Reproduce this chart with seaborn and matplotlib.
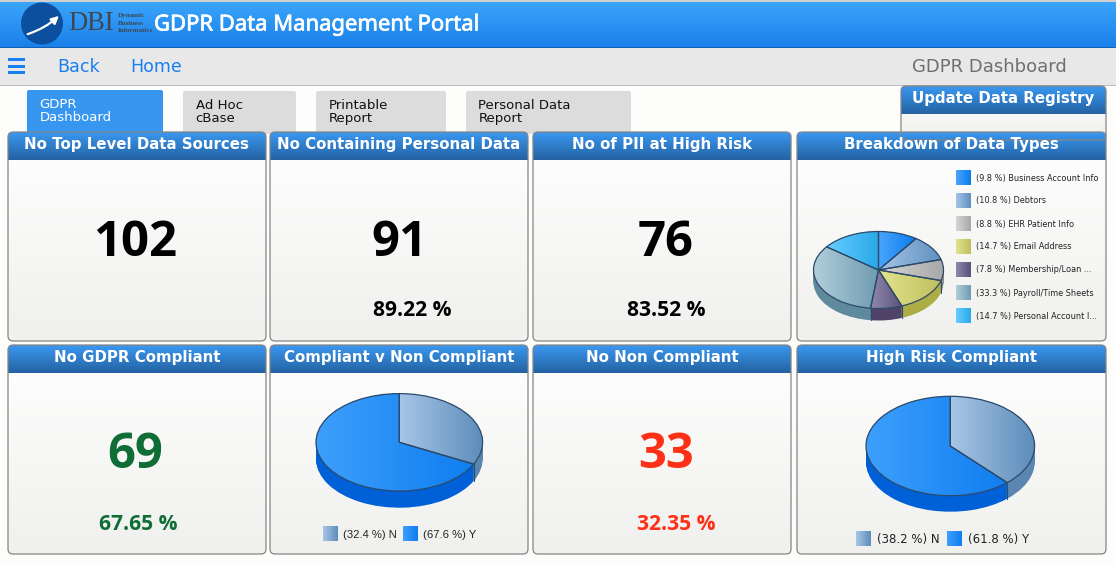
import numpy as np
import matplotlib
matplotlib.use("Agg")
import matplotlib.pyplot as plt
import matplotlib.patheffects as pe
import seaborn as sns
from matplotlib.patches import FancyBboxPatch, Rectangle, Circle, FancyArrowPatch
from matplotlib.colors import LinearSegmentedColormap

# ---------- data ----------
page_title = "GDPR Data Management Portal"
nav_links = ["Back", "Home"]
page_name = "GDPR Dashboard"
tab_labels = ["GDPR\nDashboard", "Ad Hoc\ncBase", "Printable\nReport", "Personal Data\nReport"]
panel_titles = ["No Top Level Data Sources", "No Containing Personal Data", "No of PII at High Risk",
                "Breakdown of Data Types", "No GDPR Compliant", "Compliant v Non Compliant",
                "No Non Compliant", "High Risk Compliant"]
side_panel_title = "Update Data Registry"
kpi_values = ["102", "91", "76", "69", "33"]
kpi_percents = [None, "89.22 %", "83.52 %", "67.65 %", "32.35 %"]

breakdown_labels = ["Business Account Info", "Debtors", "EHR Patient Info", "Email Address",
                    "Membership/Loan ...", "Payroll/Time Sheets", "Personal Account I..."]
breakdown_values = [9.8, 10.8, 8.8, 14.7, 7.8, 33.3, 14.7]
compliant_labels = ["N", "Y"]
compliant_values = [32.4, 67.6]
highrisk_labels = ["N", "Y"]
highrisk_values = [38.2, 61.8]

# ---------- styles ----------
sns.set_theme(style="white")
plt.rcParams["font.family"] = ["DejaVu Sans"]
W, H = 1116, 566
PX = 0.72  # pt per px at dpi 100

fig = plt.figure(figsize=(W / 100, H / 100), dpi=100, facecolor="#fdfdfb")
bg = fig.add_axes([0, 0, 1, 1])
bg.set_xlim(0, W); bg.set_ylim(H, 0); bg.axis("off")

def cmap(c0, c1):
    return LinearSegmentedColormap.from_list("g", [c0, c1])

def grad(ax, x0, y0, x1, y1, c0, c1, vertical=False, clip=None, zorder=2):
    g = np.linspace(0, 1, 64)
    arr = g[:, None] if vertical else g[None, :]
    im = ax.imshow(arr, extent=(x0, x1, y1, y0), origin="upper", cmap=cmap(c0, c1),
                   aspect="auto", interpolation="bilinear", zorder=zorder)
    if clip is not None:
        im.set_clip_path(clip)
    return im

def panel(x0, y0, x1, y1, title, head=28, size=15):
    box = FancyBboxPatch((x0, y0), x1 - x0, y1 - y0, boxstyle="round,pad=0,rounding_size=5",
                         fc="none", ec="none", zorder=1)
    bg.add_patch(box)
    grad(bg, x0, y0, x1, y1, "#ffffff", "#f0f0ee", vertical=True, clip=box, zorder=1.2)
    grad(bg, x0, y0, x1, y0 + head, "#3a98f0", "#2462a2", vertical=True, clip=box, zorder=1.3)
    bg.add_patch(FancyBboxPatch((x0, y0), x1 - x0, y1 - y0, boxstyle="round,pad=0,rounding_size=5",
                                fc="none", ec="#858585", lw=0.9, zorder=1.4))
    bg.text((x0 + x1) / 2, y0 + 12.5, title, color="white", fontsize=size * PX, fontweight="bold",
            ha="center", va="center", zorder=3)

# ---------- top bar ----------
bg.add_patch(Rectangle((0, 0), W, 2, fc="#cfcfcf", ec="none", zorder=1))
grad(bg, 0, 2, W, 47, "#3aa5fb", "#1a80ea", vertical=True, zorder=1)
bg.add_patch(Rectangle((0, 47), W, 1.2, fc="#1560b0", ec="none", zorder=1.1))
bg.add_patch(Circle((42, 23.5), 21, fc="#0b4f9e", ec="none", zorder=2))
bg.add_patch(FancyArrowPatch((25, 35), (61, 14), connectionstyle="arc3,rad=0.12", arrowstyle="-|>",
                             mutation_scale=11, color="white", lw=1.6, zorder=3))
bg.text(68, 24, "DBI", family="Liberation Serif", fontsize=26.5 * PX, color="#3f4650",
        ha="left", va="center", zorder=3)
for yy, word in zip((16, 23.5, 30.5), ("Dynamic", "Business", "Informatics")):
    bg.text(118, yy, word, family="Liberation Serif", fontsize=7 * PX, color="#3f4650",
            fontweight="bold", ha="left", va="center", zorder=3)
bg.text(154, 25, page_title, family="Noto Sans", fontsize=22 * PX, color="white",
        ha="left", va="center", zorder=3,
        path_effects=[pe.withStroke(linewidth=0.5, foreground="white")])

# ---------- nav bar ----------
bg.add_patch(Rectangle((0, 48), W, 37, fc="#e8e8e8", ec="none", zorder=1))
bg.add_patch(Rectangle((0, 85), W, 1.2, fc="#bdbdbd", ec="none", zorder=1))
for yy in (58, 65, 71):
    bg.add_patch(Rectangle((8, yy), 17, 3, fc="#1a7ff0", ec="none", zorder=2, snap=False))
for label, xx in zip(nav_links, (57, 130)):
    bg.text(xx, 67.5, label, fontsize=17.5 * PX, color="#1a7ff0", family="DejaVu Sans", ha="left", va="center")
bg.text(912, 67.5, page_name, fontsize=18 * PX, color="#6f6f6f", ha="left", va="center")

# ---------- tabs ----------
tab_x = [(27, 163), (183, 296), (316, 446), (466, 631)]
for i, (label, (a, b)) in enumerate(zip(tab_labels, tab_x)):
    active = i == 0
    bg.add_patch(FancyBboxPatch((a, 90 + (0 if active else 1)), b - a, 43, boxstyle="round,pad=0,rounding_size=2",
                                fc="#3797f0" if active else "#dcdcdc", ec="none", zorder=1))
    bg.text(a + 12.5, 111 if active else 112, label, fontsize=13.3 * PX, color="white" if active else "#111111",
            ha="left", va="center", linespacing=0.98, zorder=2)

# ---------- panels ----------
panel(901, 86, 1106, 140, side_panel_title, head=28, size=15)
cols = [(8, 266), (270, 528), (533, 791), (797, 1106)]
rows = [(132, 341), (345, 554)]
k = 0
for r, (y0, y1) in enumerate(rows):
    for c, (x0, x1) in enumerate(cols):
        panel(x0, y0, x1, y1, panel_titles[k])
        k += 1

# ---------- KPI tiles ----------
kpi_pos = [(135, 243), (399, 243), (666, 243), (135, 455.5), (666, 455.5)]
kpi_pct_pos = [None, (412, 311), (666, 311), (138, 524), (676, 524)]
kpi_col = ["black", "black", "black", "#0f6e36", "#ff3018"]
for v, p, (xx, yy), pp, col in zip(kpi_values, kpi_percents, kpi_pos, kpi_pct_pos, kpi_col):
    bg.text(xx, yy, v, family="Open Sans", fontweight="bold", fontsize=49 * PX, color=col,
            ha="center", va="center", zorder=3)
    if p:
        bg.text(pp[0], pp[1], p, family="Open Sans", fontweight="bold", fontsize=21 * PX, color=col,
                ha="center", va="center", zorder=3)

# ---------- 3-D looking pies ----------
def pie3d(values, tops, sides, cx, cy, rx, ry, depth):
    m = 1.08
    d = depth / ry
    left, right = cx - rx * m, cx + rx * m
    top, bottom = cy - ry * m, cy + ry * m + depth
    ax = fig.add_axes([left / W, 1 - bottom / H, (right - left) / W, (bottom - top) / H])
    # side wall: stacked layers up to the top face
    n = int(depth) + 1
    for o in np.linspace(d, 0, n):
        ax.pie(values, colors=sides, startangle=90, counterclock=False, center=(0, -o),
               wedgeprops=dict(linewidth=0))
    # top face with per-slice gradient
    faces, _ = ax.pie(values, colors=[t[0] for t in tops], startangle=90, counterclock=False,
                      wedgeprops=dict(linewidth=0))
    for w, (c0, c1) in zip(faces, tops):
        e = w.get_path().get_extents(w.get_patch_transform())
        g = np.linspace(0, 1, 64)[None, :]
        im = ax.imshow(g, extent=(e.x0, e.x1, e.y0, e.y1), origin="lower", cmap=cmap(c0, c1), aspect="auto",
                       interpolation="bilinear", zorder=3)
        im.set_clip_path(w)
    edges, _ = ax.pie(values, startangle=90, counterclock=False,
                      wedgeprops=dict(linewidth=0.9, edgecolor="#2c4a6b", fill=False))
    for w in edges:
        w.set_zorder(4)
    # slice boundaries on the front wall
    for b in np.cumsum(values)[:-1]:
        a = np.deg2rad(90 - b / sum(values) * 360)
        if np.sin(a) < 0:
            ax.plot([np.cos(a)] * 2, [np.sin(a), np.sin(a) - d], color="#2c4a6b", lw=0.8, zorder=3.5)
    ax.set_aspect("auto")
    ax.set_xlim(-m, m)
    ax.set_ylim(-m - d, m)
    ax.axis("off")
    ax.patch.set_alpha(0)
    return ax

Y_TOP = ("#3d9ffb", "#0f7ef0")
N_TOP = ("#a8c6e6", "#5d8dbb")
Y_SIDE = "#0060d8"
N_SIDE = "#5a86b0"

breakdown_tops = [("#4aa5fb", "#0a7cee"), ("#a6c4e6", "#5f90bf"), ("#d6d6d6", "#a8a8a8"), ("#e2e28e", "#bfbf5e"),
                  ("#8e88ac", "#5a5078"), ("#b0ced9", "#6f9cb0"), ("#66ccff", "#2aa8e8")]
breakdown_sides = ["#0a66c8", "#5a86b0", "#8c8c8c", "#adad45", "#4f4468", "#5f8a9e", "#2090c8"]
pie3d(breakdown_values, breakdown_tops, breakdown_sides, 878.5, 270, 65, 38.5, 12)
pie3d(compliant_values, [N_TOP, Y_TOP], [N_SIDE, Y_SIDE], 399.3, 442.3, 83.3, 48.7, 16.7)
pie3d(highrisk_values, [N_TOP, Y_TOP], [N_SIDE, Y_SIDE], 950.3, 446, 84.3, 49.7, 16)

# ---------- legends ----------
def swatch(x, y, cols_):
    grad(bg, x, y - 7.5, x + 15, y + 7.5, cols_[0], cols_[1], zorder=3)

for i, (lab, val, tp) in enumerate(zip(breakdown_labels, breakdown_values, breakdown_tops)):
    y = 178 + i * 23
    swatch(956, y, tp)
    bg.text(976, y, f"({val} %) {lab}", fontsize=8.2 * PX, color="#222222", ha="left", va="center", zorder=3)

for lab, val, tp, sx, tx in zip(compliant_labels, compliant_values, (N_TOP, Y_TOP), (323, 403), (343, 423)):
    swatch(sx, 534, tp)
    bg.text(tx, 534.5, f"({val} %) {lab}", family="Liberation Sans", fontsize=11.2 * PX, color="#222222",
            ha="left", va="center", zorder=3)

for lab, val, tp, sx, tx in zip(highrisk_labels, highrisk_values, (N_TOP, Y_TOP), (856, 947), (877, 968)):
    swatch(sx, 539, tp)
    bg.text(tx, 540, f"({val} %) {lab}", fontsize=11.8 * PX, color="#222222", ha="left", va="center", zorder=3)

bg.set_xlim(0, W); bg.set_ylim(H, 0)
fig.savefig("out.png", dpi=100, facecolor=fig.get_facecolor())
